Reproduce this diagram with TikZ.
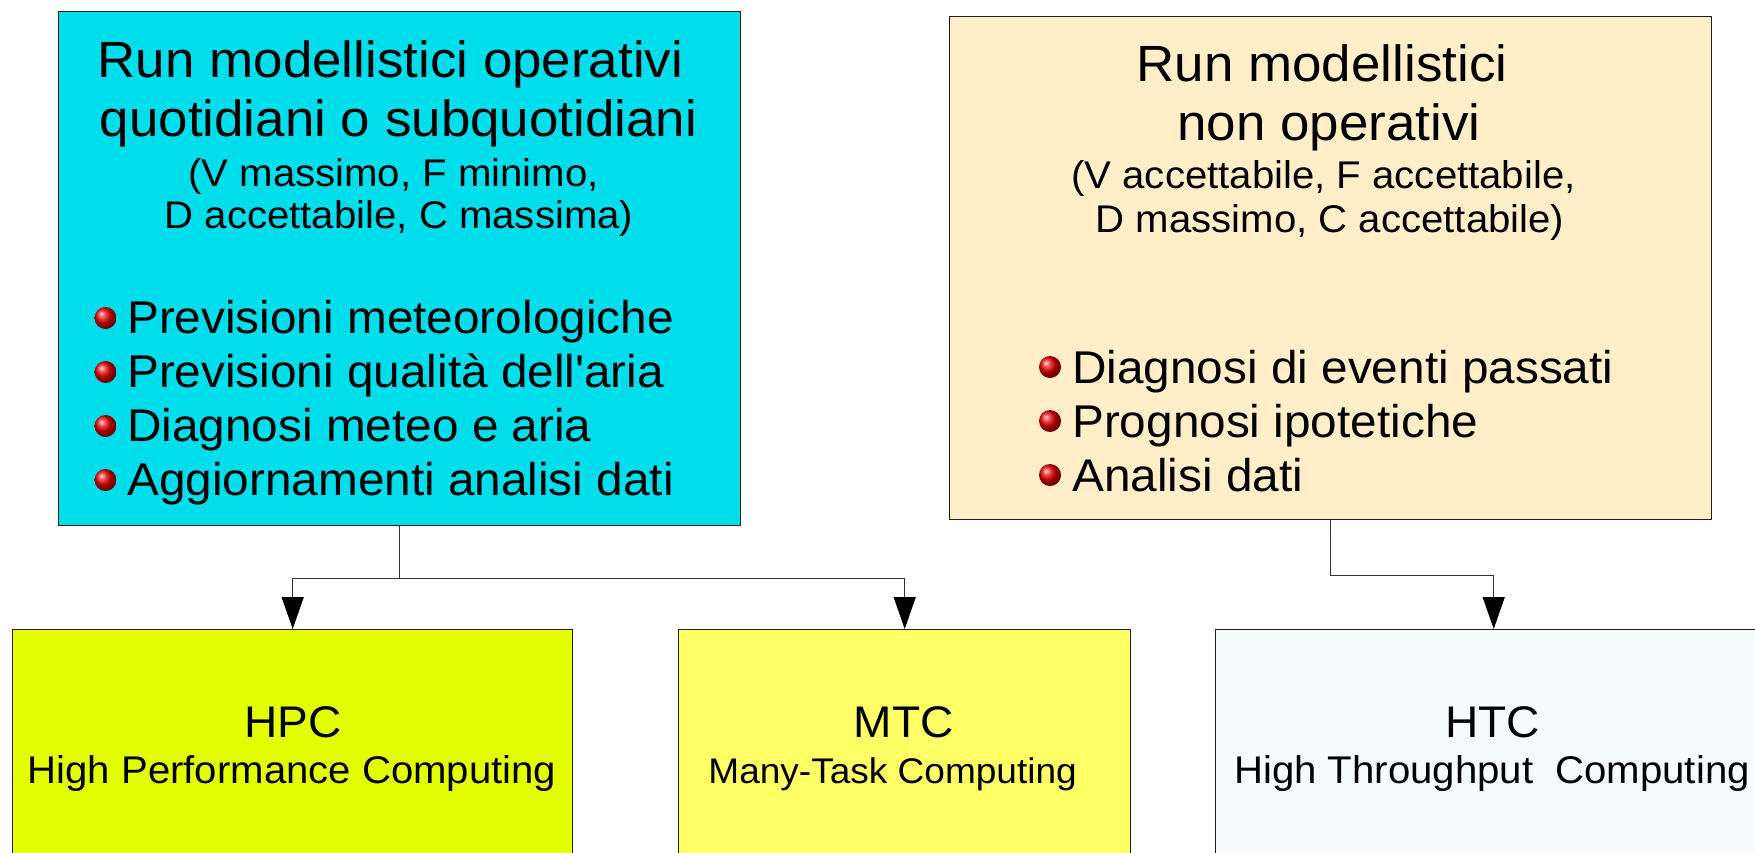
\documentclass[tikz,border=0pt]{standalone}
\usepackage{fontspec}
\setmainfont{Liberation Sans}[FakeStretch=1.04]
\usetikzlibrary{arrows.meta}

\definecolor{opcyan}{RGB}{0,222,236}
\definecolor{nopsand}{RGB}{255,238,200}
\definecolor{hpcgreen}{RGB}{228,255,0}
\definecolor{mtcyellow}{RGB}{255,255,102}
\definecolor{htcwhite}{RGB}{244,252,255}
\definecolor{edge}{RGB}{30,30,30}

\newcommand{\fsz}[1]{\fontsize{#1}{#1}\selectfont}

\tikzset{
  panel/.style={draw=edge, line width=1.4pt, rectangle, inner sep=0pt, anchor=north west},
  txt/.style={inner sep=0pt, anchor=base},
  itemtxt/.style={inner sep=0pt, anchor=base west, font=\fsz{45.9}},
  ball/.style={circle, inner sep=0pt, minimum size=22pt, shading=ball, ball color=red!92!black},
  conn/.style={draw=black!80, line width=1.3pt},
  tip/.style={-{Triangle[length=32pt,width=22pt,black]}}
}

\begin{document}
\begin{tikzpicture}[x=1pt,y=-1pt]
\useasboundingbox (0,0) rectangle (1755,852);

% upper boxes
\node[panel, fill=opcyan, minimum width=682pt, minimum height=514pt] (op) at (58,11) {};
\node[panel, fill=nopsand, minimum width=762pt, minimum height=503pt] (nop) at (949,16) {};

% lower boxes (running past the frame)
\node[panel, fill=hpcgreen, minimum width=560pt, minimum height=280pt] (hpc) at (12,629) {};
\node[panel, fill=mtcyellow, minimum width=452pt, minimum height=280pt] (mtc) at (678,629) {};
\node[panel, fill=htcwhite, minimum width=556pt, minimum height=280pt] (htc) at (1215,629) {};

% operational runs
\node[txt, font=\fsz{50.9}] (op1) at (390.5,77) {Run modellistici operativi};
\node[txt, font=\fsz{50.9}] (op2) at (398.5,136) {quotidiani o subquotidiani};
\node[txt, font=\fsz{38.6}] (op3) at (393.5,186) {(V massimo, F minimo,};
\node[txt, font=\fsz{38.6}] (op4) at (399,228) {D accettabile, C massima)};
\foreach \i/\y/\t in {1/333/Previsioni meteorologiche,
                       2/387/Previsioni qualità dell\textquotesingle aria,
                       3/441/Diagnosi meteo e aria,
                       4/495/Aggiornamenti analisi dati}{
  \node[ball] (opb\i) at (105.5,\y-15) {};
  \node[itemtxt] (opi\i) at (127,\y) {\t};
}

% non-operational runs
\node[txt, font=\fsz{50.9}] (nop1) at (1322,81.6) {Run modellistici};
\node[txt, font=\fsz{50.9}] (nop2) at (1329,140.5) {non operativi};
\node[txt, font=\fsz{38.6}] (nop3) at (1323.5,188) {(V accettabile, F accettabile,};
\node[txt, font=\fsz{38.6}] (nop4) at (1330,232) {D massimo, C accettabile)};
\foreach \i/\y/\t in {1/383/Diagnosi di eventi passati,
                       2/437/Prognosi ipotetiche,
                       3/491/Analisi dati}{
  \node[ball] (nopb\i) at (1050,\y-16) {};
  \node[itemtxt] (nopi\i) at (1072,\y) {\t};
}

% computing paradigms
\node[txt, font=\fsz{44.3}] (hpcA) at (292.7,737) {HPC};
\node[txt, font=\fsz{38.6}] (hpcB) at (292,783) {High Performance Computing};
\node[txt, font=\fsz{44.3}] (mtcA) at (903.8,737) {MTC};
\node[txt, font=\fsz{35.6}] (mtcB) at (892.6,783) {Many-Task Computing};
\node[txt, font=\fsz{44.3}] (htcA) at (1492.5,737) {HTC};
\node[txt, font=\fsz{38.6}] (htcB) at (1492,783) {High Throughput\ \ Computing};

% connectors
\draw[conn] (op.south) -- ++(0,52) coordinate (split);
\draw[conn, tip] (split) -| (hpc.north);
\draw[conn, tip] (split) -| (mtc.north);
\draw[conn, tip] (nop.south) -- ++(0,55) -| (htc.north);
\end{tikzpicture}
\end{document}
